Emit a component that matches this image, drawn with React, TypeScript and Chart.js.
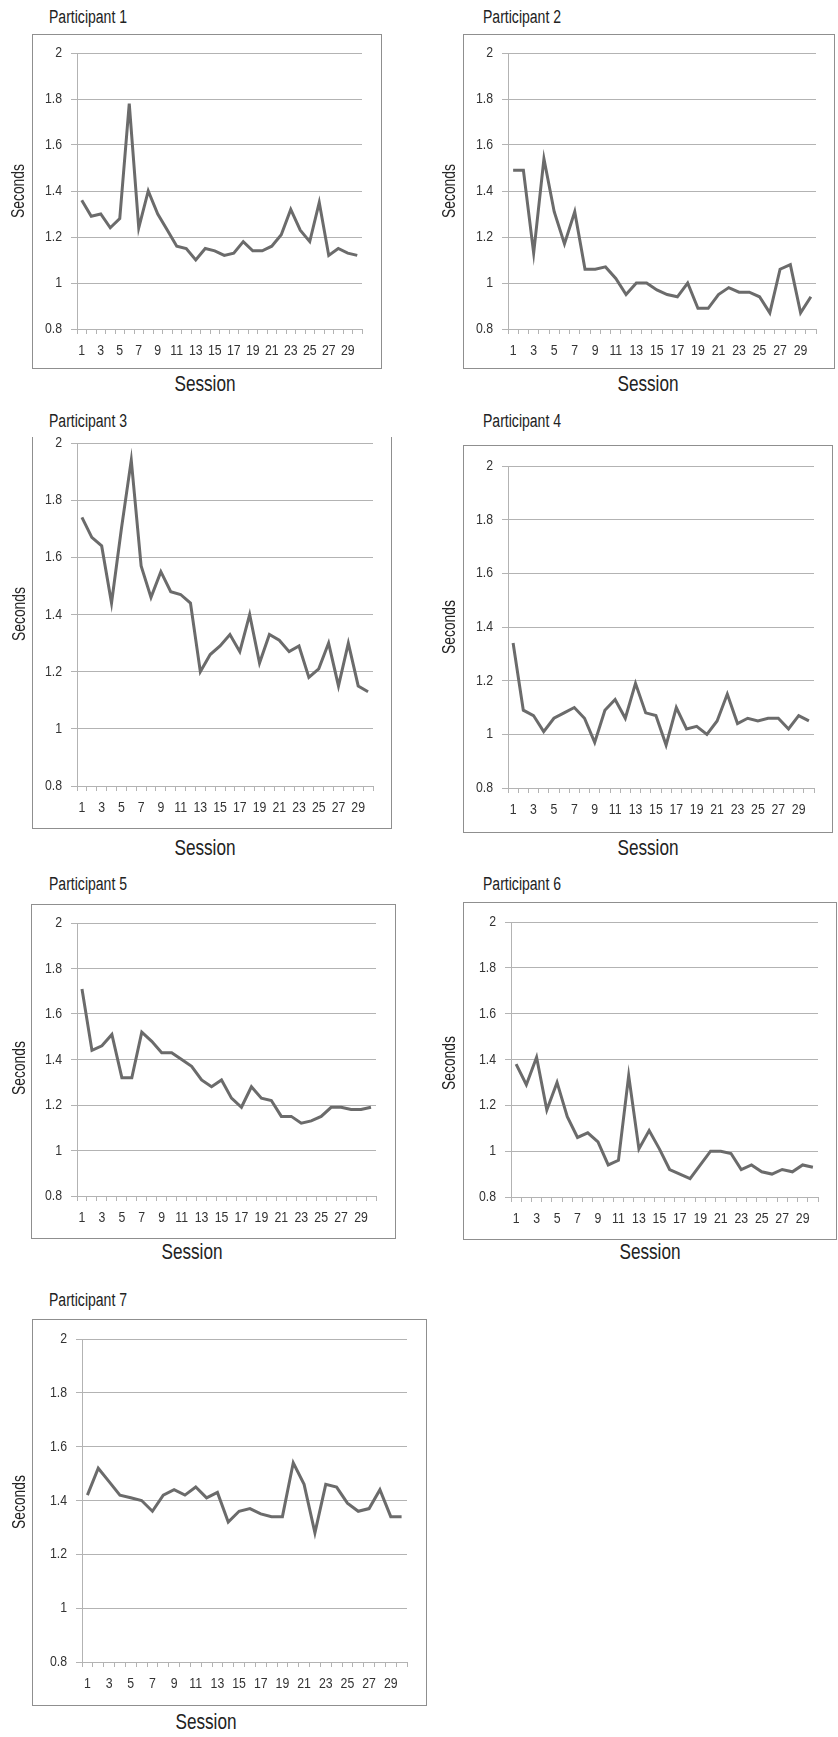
import React, { useEffect, useRef } from 'react';
import { Chart, registerables } from 'chart.js';

Chart.register(...registerables);

// ---------- data ----------
const SESSIONS = ['1', '2', '3', '4', '5', '6', '7', '8', '9', '10', '11', '12', '13', '14', '15', '16', '17', '18', '19', '20', '21', '22', '23', '24', '25', '26', '27', '28', '29', '30'];

const Y_MIN = 0.8;
const Y_MAX = 2;
const Y_STEP = 0.2;

const P1 = [1.36, 1.29, 1.30, 1.24, 1.28, 1.78, 1.24, 1.40, 1.30, 1.23, 1.16, 1.15, 1.10, 1.15, 1.14, 1.12, 1.13, 1.18, 1.14, 1.14, 1.16, 1.21, 1.32, 1.23, 1.18, 1.35, 1.12, 1.15, 1.13, 1.12];
const P2 = [1.49, 1.49, 1.13, 1.54, 1.31, 1.17, 1.31, 1.06, 1.06, 1.07, 1.02, 0.95, 1.00, 1.00, 0.97, 0.95, 0.94, 1.00, 0.89, 0.89, 0.95, 0.98, 0.96, 0.96, 0.94, 0.87, 1.06, 1.08, 0.87, 0.94];
const P3 = [1.74, 1.67, 1.64, 1.44, 1.70, 1.94, 1.57, 1.46, 1.55, 1.48, 1.47, 1.44, 1.20, 1.26, 1.29, 1.33, 1.27, 1.40, 1.23, 1.33, 1.31, 1.27, 1.29, 1.18, 1.21, 1.30, 1.15, 1.30, 1.15, 1.13];
const P4 = [1.34, 1.09, 1.07, 1.01, 1.06, 1.08, 1.10, 1.06, 0.97, 1.09, 1.13, 1.06, 1.19, 1.08, 1.07, 0.96, 1.10, 1.02, 1.03, 1.00, 1.05, 1.15, 1.04, 1.06, 1.05, 1.06, 1.06, 1.02, 1.07, 1.05];
const P5 = [1.71, 1.44, 1.46, 1.51, 1.32, 1.32, 1.52, 1.48, 1.43, 1.43, 1.40, 1.37, 1.31, 1.28, 1.31, 1.23, 1.19, 1.28, 1.23, 1.22, 1.15, 1.15, 1.12, 1.13, 1.15, 1.19, 1.19, 1.18, 1.18, 1.19];
const P6 = [1.38, 1.29, 1.41, 1.18, 1.30, 1.15, 1.06, 1.08, 1.04, 0.94, 0.96, 1.33, 1.01, 1.09, 1.01, 0.92, 0.90, 0.88, 0.94, 1.00, 1.00, 0.99, 0.92, 0.94, 0.91, 0.90, 0.92, 0.91, 0.94, 0.93];
const P7 = [1.42, 1.52, 1.47, 1.42, 1.41, 1.40, 1.36, 1.42, 1.44, 1.42, 1.45, 1.41, 1.43, 1.32, 1.36, 1.37, 1.35, 1.34, 1.34, 1.54, 1.46, 1.28, 1.46, 1.45, 1.39, 1.36, 1.37, 1.44, 1.34, 1.34];

const TITLES = ['Participant 1', 'Participant 2', 'Participant 3', 'Participant 4', 'Participant 5', 'Participant 6', 'Participant 7'];
const SERIES = [P1, P2, P3, P4, P5, P6, P7];
const X_TITLE = 'Session';
const Y_TITLE = 'Seconds';

// ---------- layout (pixels) ----------
const LAYOUT = [
  { box: { x: 32, y: 34, w: 350, h: 335, top: true }, area: { l: 77, t: 53, r: 362, b: 329 }, titleX: 49, titleY: 17, sesX: 205, sesY: 384, secX: 18, secY: 191 },
  { box: { x: 463, y: 34, w: 372, h: 335, top: true }, area: { l: 508, t: 53, r: 816, b: 329 }, titleX: 483, titleY: 17, sesX: 648, sesY: 384, secX: 449, secY: 191 },
  { box: { x: 32, y: 437, w: 360, h: 392, top: false }, area: { l: 77, t: 443, r: 373, b: 786 }, titleX: 49, titleY: 421, sesX: 205, sesY: 848, secX: 19, secY: 614 },
  { box: { x: 463, y: 445, w: 370, h: 388, top: true }, area: { l: 508, t: 466, r: 814, b: 788 }, titleX: 483, titleY: 421, sesX: 648, sesY: 848, secX: 449, secY: 627 },
  { box: { x: 31, y: 904, w: 365, h: 335, top: true }, area: { l: 77, t: 923, r: 376, b: 1196 }, titleX: 49, titleY: 884, sesX: 192, sesY: 1252, secX: 19, secY: 1068 },
  { box: { x: 463, y: 902, w: 374, h: 338, top: true }, area: { l: 511, t: 922, r: 818, b: 1197 }, titleX: 483, titleY: 884, sesX: 650, sesY: 1252, secX: 449, secY: 1063 },
  { box: { x: 32, y: 1319, w: 395, h: 387, top: true }, area: { l: 82, t: 1339, r: 407, b: 1662 }, titleX: 49, titleY: 1300, sesX: 206, sesY: 1722, secX: 19, secY: 1502 },
];

const FONT = '"Liberation Sans", Arial, sans-serif';
const NARROW = 0.82; // horizontal squeeze imitating a narrow face
const LINE_COLOR = '#6b6b6b';
const GRID_COLOR = '#b3b3b3';
const BOX_COLOR = '#8f8f8f';
const TICK_COLOR = '#333333';
const TEXT_COLOR = '#222222';
const TICK_SIZE = 15;

const AX_W = 50;
const AX_H = 34;
const PAD_T = 12;
const PAD_R = 12;
const Y_LABEL_GAP = 15;
const X_LABEL_GAP = 22;

const fmtY = (v: number) => String(Math.round(v * 10) / 10);

// Tick labels drawn from the library's scales, squeezed horizontally like a narrow typeface
const narrowTickLabels = {
  id: 'narrowTickLabels',
  afterDraw(chart: any) {
    const { ctx } = chart;
    const xs = chart.scales.x;
    const ys = chart.scales.y;
    ctx.save();
    ctx.fillStyle = TICK_COLOR;
    ctx.font = `${TICK_SIZE}px ${FONT}`;
    ctx.textBaseline = 'middle';
    ctx.textAlign = 'right';
    ys.ticks.forEach((t: any, i: number) => {
      const y = ys.getPixelForTick(i);
      ctx.save();
      ctx.translate(ys.right - Y_LABEL_GAP, y);
      ctx.scale(NARROW, 1);
      ctx.fillText(fmtY(t.value), 0, 0);
      ctx.restore();
    });
    ctx.textAlign = 'center';
    xs.ticks.forEach((_t: any, i: number) => {
      if (i % 2 !== 0) return;
      const x = xs.getPixelForTick(i);
      ctx.save();
      ctx.translate(x, xs.top + X_LABEL_GAP);
      ctx.scale(NARROW, 1);
      ctx.fillText(SESSIONS[i], 0, 0);
      ctx.restore();
    });
    ctx.restore();
  },
};

function Panel({ idx }: { idx: number }) {
  const ref = useRef<HTMLCanvasElement | null>(null);
  const L = LAYOUT[idx];
  const { l, t, r, b } = L.area;
  const cw = AX_W + (r - l) + PAD_R;
  const ch = PAD_T + (b - t) + AX_H;

  useEffect(() => {
    if (!ref.current) return;
    const chart = new Chart(ref.current, {
      type: 'line',
      data: {
        labels: SESSIONS,
        datasets: [
          {
            data: SERIES[idx],
            borderColor: LINE_COLOR,
            borderWidth: 3,
            pointRadius: 0,
            pointHoverRadius: 0,
            fill: false,
            tension: 0,
          },
        ],
      },
      options: {
        responsive: false,
        animation: false,
        events: [],
        layout: { padding: { left: 0, top: PAD_T, right: PAD_R, bottom: 0 } },
        plugins: {
          legend: { display: false },
          tooltip: { enabled: false },
          title: { display: false },
        },
        scales: {
          x: {
            type: 'category',
            offset: true,
            grid: {
              offset: true,
              drawOnChartArea: false,
              drawTicks: true,
              tickLength: 5,
              color: GRID_COLOR,
              lineWidth: 1,
            },
            border: { display: true, color: GRID_COLOR, width: 1 },
            ticks: { display: false, autoSkip: false, maxRotation: 0, minRotation: 0 },
            afterFit: (s: any) => {
              s.height = AX_H;
            },
          },
          y: {
            min: Y_MIN,
            max: Y_MAX,
            ticks: { display: false, stepSize: Y_STEP },
            grid: { color: GRID_COLOR, lineWidth: 1, drawTicks: true, tickLength: 6 },
            border: { display: true, color: GRID_COLOR, width: 1 },
            afterFit: (s: any) => {
              s.width = AX_W;
            },
          },
        },
      },
      plugins: [narrowTickLabels],
    } as any);
    return () => chart.destroy();
  }, [idx]);

  return (
    <>
      <div
        style={{
          position: 'absolute',
          left: L.box.x,
          top: L.box.y,
          width: L.box.w,
          height: L.box.h,
          boxSizing: 'border-box',
          borderLeft: `1px solid ${BOX_COLOR}`,
          borderRight: `1px solid ${BOX_COLOR}`,
          borderBottom: `1px solid ${BOX_COLOR}`,
          borderTop: L.box.top ? `1px solid ${BOX_COLOR}` : 'none',
        }}
      />
      <div
        style={{
          position: 'absolute',
          left: L.titleX,
          top: L.titleY - 11,
          height: 22,
          lineHeight: '22px',
          fontSize: 18,
          fontFamily: FONT,
          color: TEXT_COLOR,
          whiteSpace: 'nowrap',
          transform: 'scaleX(0.78)',
          transformOrigin: 'left center',
        }}
      >
        {TITLES[idx]}
      </div>
      <canvas
        ref={ref}
        width={cw}
        height={ch}
        style={{ position: 'absolute', left: l - AX_W, top: t - PAD_T, width: cw, height: ch }}
      />
      <div
        style={{
          position: 'absolute',
          left: L.sesX,
          top: L.sesY,
          transform: 'translate(-50%, -50%) scaleX(0.78)',
          fontSize: 22,
          lineHeight: '26px',
          fontFamily: FONT,
          color: TEXT_COLOR,
          whiteSpace: 'nowrap',
        }}
      >
        {X_TITLE}
      </div>
      <div
        style={{
          position: 'absolute',
          left: L.secX,
          top: L.secY,
          transform: 'translate(-50%, -50%) rotate(-90deg) scaleX(0.77)',
          fontSize: 18,
          lineHeight: '22px',
          fontFamily: FONT,
          color: TEXT_COLOR,
          whiteSpace: 'nowrap',
        }}
      >
        {Y_TITLE}
      </div>
    </>
  );
}

export default function App() {
  return (
    <div
      style={{
        position: 'absolute',
        left: 0,
        top: 0,
        width: 838,
        height: 1737,
        background: '#ffffff',
        overflow: 'hidden',
      }}
    >
      {LAYOUT.map((_, i) => (
        <Panel key={i} idx={i} />
      ))}
    </div>
  );
}
